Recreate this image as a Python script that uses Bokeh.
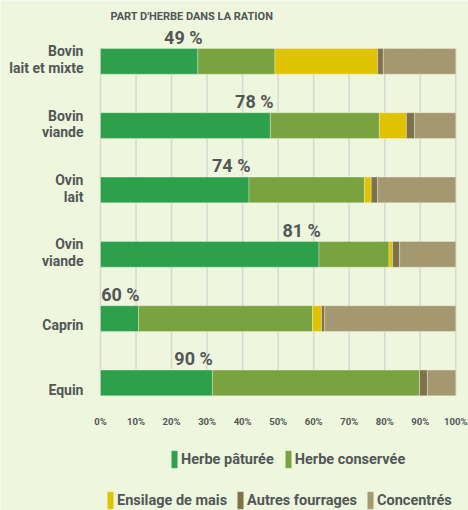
from bokeh.plotting import figure
from bokeh.models import ColumnDataSource, Range1d, Legend, LegendItem, Label
from bokeh.core.properties import value
from bokeh.embed import file_html
from bokeh.resources import INLINE

# ---------------- data ----------------
categories = ["Bovin\nlait et mixte", "Bovin\nviande", "Ovin\nlait", "Ovin\nviande", "Caprin", "Equin"]
herbe_paturee = [27.4, 47.8, 41.8, 61.5, 10.7, 31.5]
herbe_conservee = [21.7, 30.7, 32.5, 19.7, 49.0, 58.3]
ensilage_mais = [28.9, 7.6, 1.9, 1.0, 2.5, 0.0]
autres_fourrages = [1.6, 2.3, 1.8, 2.0, 0.9, 2.2]
concentres = [20.4, 11.6, 22.0, 15.8, 36.9, 8.0]
part_herbe = [49, 78, 74, 81, 60, 90]
part_herbe_label_x = [23.3, 43.3, 36.8, 56.6, 5.6, 26.2]
tick_values = [0, 10, 20, 30, 40, 50, 60, 70, 80, 90, 100]
tick_labels = [f"{t}%" for t in tick_values]
series_names = ["Herbe pâturée", "Herbe conservée", "Ensilage de mais", "Autres fourrages", "Concentrés"]
title_text = "PART D'HERBE DANS LA RATION"

# ---------------- style ----------------
colors = ["#2e9f4b", "#79a33f", "#e0c300", "#7d7249", "#a39870"]
BG = "#eef6dd"
TXT = "#525658"
GRID = "#d6d9d2"
FONT = "Roboto"

n = len(categories)
ypos = list(range(n))
keys = ["paturee", "conservee", "mais", "autres", "concentres"]
source = ColumnDataSource(dict(
    y=ypos, cat=categories,
    paturee=herbe_paturee, conservee=herbe_conservee, mais=ensilage_mais,
    autres=autres_fourrages, concentres=concentres,
))

p = figure(width=468, height=510, output_backend="svg", toolbar_location=None,
           x_range=Range1d(-28.15, 103.58), y_range=Range1d(6.982, -0.945),
           x_axis_location=None, y_axis_location=None, min_border=0,
           background_fill_color=BG, border_fill_color=BG, outline_line_color=None)
p.grid.visible = False

BAR_H = 0.4

# vertical grid lines, from the top of the first bar to the bottom of the last
p.segment(x0=tick_values, x1=tick_values,
          y0=[ypos[0] - BAR_H / 2] * len(tick_values),
          y1=[ypos[-1] + BAR_H / 2] * len(tick_values),
          line_color=GRID, line_width=1.5)

rs = p.hbar_stack(keys, y="y", height=BAR_H, fill_color=colors, source=source,
                  line_color="white", line_alpha=0.3, line_width=1)

# category labels
p.text(x=[-4.8] * n, y=[v + 0.23 for v in ypos], text=categories,
       text_align="right", text_baseline="bottom",
       text_font=value(FONT), text_font_style="bold", text_font_size="14px",
       text_color=TXT, text_line_height=1.05)

# grass share labels
p.text(x=part_herbe_label_x, y=[v - 0.21 for v in ypos],
       text=[f"{v} %" for v in part_herbe],
       text_align="center", text_baseline="bottom",
       text_font=value(FONT), text_font_style="bold", text_font_size="18px",
       text_color=TXT)

# tick labels
p.text(x=tick_values, y=[5.594] * len(tick_values), text=tick_labels,
       text_align="center", text_baseline="middle",
       text_font=value(FONT), text_font_style="bold", text_font_size="9.5px",
       text_color=TXT)

p.add_layout(Label(x=2.8, y=-0.701, text=title_text, text_align="left",
                   text_baseline="middle", text_font=FONT, text_font_style="bold",
                   text_font_size="11px", text_color=TXT))


def make_legend(idx, loc, spacing):
    return Legend(items=[LegendItem(label=series_names[i], renderers=[rs[i]]) for i in idx],
                  location=loc, orientation="horizontal", glyph_width=8, glyph_height=22,
                  label_standoff=3, spacing=spacing, padding=0, margin=0,
                  border_line_color=None, background_fill_alpha=0,
                  label_text_font=FONT, label_text_font_style="bold",
                  label_text_font_size="14.5px", label_text_color=TXT)


p.add_layout(make_legend([0, 1], (170, 40), 10))
p.add_layout(make_legend([2, 3, 4], (106, -1), 9))

open("out.html", "w").write(file_html(p, INLINE))
